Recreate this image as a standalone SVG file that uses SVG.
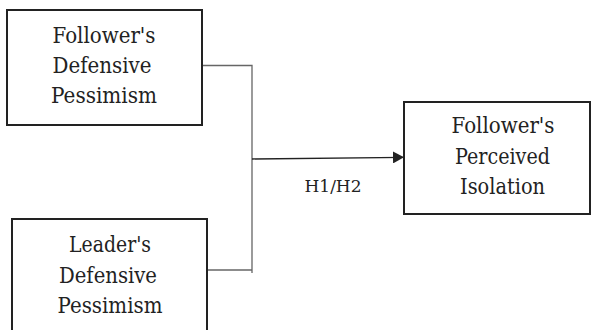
<svg xmlns="http://www.w3.org/2000/svg" width="591" height="330" viewBox="0 0 591 330">
<style>
.box{fill:#fff;stroke:#222;stroke-width:2}
.t{font-family:'DejaVu Serif','Liberation Serif',serif;font-size:22.5px;fill:#222;text-anchor:middle}
.lbl{font-family:'DejaVu Serif','Liberation Serif',serif;font-size:17.5px;fill:#222;text-anchor:middle}
.c{fill:none;stroke:#666;stroke-width:1.3}
.a{fill:none;stroke:#222;stroke-width:1.3}
</style>
<defs>
<marker id="arr" markerUnits="userSpaceOnUse" markerWidth="12" markerHeight="12" refX="11" refY="6" orient="auto">
<path d="M0,0 L11,6 L0,12 Z" fill="#222"/>
</marker>
</defs>
<rect width="591" height="330" fill="#fff"/>
<g id="connectors">
<polyline class="c" points="202,65.5 252,65.5 252,273"/>
<line class="c" x1="207" y1="270" x2="252" y2="270"/>
<line class="a" x1="252" y1="159" x2="404" y2="157.3" marker-end="url(#arr)"/>
<text class="lbl" x="333" y="192" textLength="57" lengthAdjust="spacingAndGlyphs">H1/H2</text>
</g>
<g id="node-follower-dp">
<rect class="box" x="7" y="10" width="195" height="115"/>
<text class="t" x="104" y="43" textLength="103" lengthAdjust="spacingAndGlyphs">Follower's</text>
<text class="t" x="102" y="73" textLength="99" lengthAdjust="spacingAndGlyphs">Defensive</text>
<text class="t" x="104" y="103" textLength="106" lengthAdjust="spacingAndGlyphs">Pessimism</text>
</g>
<g id="node-leader-dp">
<rect class="box" x="12" y="219" width="195" height="130"/>
<text class="t" x="110" y="251.5" textLength="82" lengthAdjust="spacingAndGlyphs">Leader's</text>
<text class="t" x="108" y="282.5" textLength="98" lengthAdjust="spacingAndGlyphs">Defensive</text>
<text class="t" x="110" y="313" textLength="105" lengthAdjust="spacingAndGlyphs">Pessimism</text>
</g>
<g id="node-isolation">
<rect class="box" x="404" y="102" width="186" height="112"/>
<text class="t" x="503" y="133" textLength="103" lengthAdjust="spacingAndGlyphs">Follower's</text>
<text class="t" x="502.5" y="164" textLength="95" lengthAdjust="spacingAndGlyphs">Perceived</text>
<text class="t" x="502.5" y="194" textLength="85" lengthAdjust="spacingAndGlyphs">Isolation</text>
</g>
</svg>
